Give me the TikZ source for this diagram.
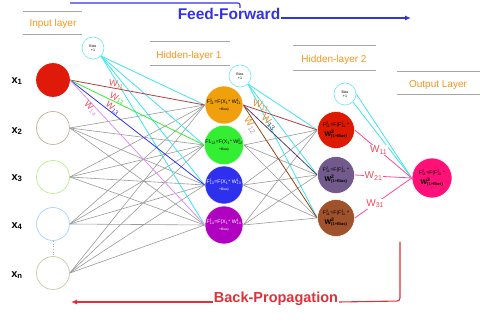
\documentclass[tikz,border=0pt]{standalone}
\usepackage{fontspec}
\setmainfont{Liberation Sans}
\usetikzlibrary{arrows.meta,backgrounds,calc}
\newcommand{\sps}[2]{\rlap{\textsuperscript{#1}}\textsubscript{#2}}
\definecolor{titleorange}{HTML}{F7941D}
\definecolor{wiregray}{HTML}{9A9A9A}
\definecolor{biascyan}{HTML}{3FE3F0}
\definecolor{ffblue}{HTML}{3333E6}
\definecolor{bpred}{HTML}{E0303A}
\definecolor{wred}{HTML}{F04A5A}
\definecolor{worange}{HTML}{F0902A}
\definecolor{inred}{HTML}{E01A0A}
\definecolor{hor}{HTML}{EFA00C}
\definecolor{hgr}{HTML}{33EE33}
\definecolor{hbl}{HTML}{2F2FEE}
\definecolor{hpu}{HTML}{B000C0}
\definecolor{gred}{HTML}{DD1A00}
\definecolor{gpu}{HTML}{735A8C}
\definecolor{gbr}{HTML}{A0522D}
\definecolor{opink}{HTML}{FF1177}
\definecolor{pline}{HTML}{FF4A9A}
\definecolor{ctan}{HTML}{C8B09A}
\definecolor{cgreen}{HTML}{B4F08A}
\definecolor{cblue}{HTML}{A6D2FF}
\definecolor{ckhaki}{HTML}{C8C8A6}
\definecolor{lbrown}{HTML}{B04040}
\definecolor{lviolet}{HTML}{E090F0}
\definecolor{ldpurple}{HTML}{504070}
\definecolor{lsaddle}{HTML}{8B4513}
\definecolor{wpurple}{HTML}{B0A0D0}
\begin{document}
\begin{tikzpicture}[x=1pt,y=-1pt,
  innode/.style={circle,draw,line width=0.7pt,fill=white,minimum size=33pt,inner sep=0pt},
  hnode/.style={circle,draw=white,line width=0.5pt,minimum size=38pt,inner sep=0pt,align=center,font=\fontsize{5.2}{6}\selectfont},
  bnode/.style={circle,draw=biascyan!80,line width=0.6pt,fill=white,minimum size=22pt,inner sep=0pt,align=center,font=\fontsize{3.6}{4.2}\selectfont},
  title/.style={text=titleorange,font=\fontsize{10}{12}\selectfont},
  rulel/.style={draw=gray!70,line width=1pt},
  wire/.style={draw=wiregray,line width=0.6pt},
  bwire/.style={draw=biascyan,line width=0.8pt},
  pwire/.style={draw=pline,line width=0.8pt},
  xlab/.style={font=\fontsize{11}{12}\selectfont\bfseries},
  wlab/.style={font=\fontsize{9}{10}\selectfont,inner sep=0.3pt},
  wlabb/.style={font=\fontsize{10}{11}\selectfont,inner sep=0.8pt}
]
\useasboundingbox (0,0) rectangle (480,331);

% titles
\draw[rulel] (23,12) -- (82,12);
\draw[rulel] (23,35) -- (82,35);
\node[title] (tin) at (53,24) {Input layer};
\draw[rulel] (150,42) -- (230,42);
\draw[rulel] (150,66) -- (230,66);
\node[title] (th1) at (189,56) {Hidden-layer 1};
\draw[rulel] (293,46) -- (376,46);
\draw[rulel] (293,71) -- (376,71);
\node[title] (th2) at (334,60) {Hidden-layer 2};
\draw[rulel] (397,72) -- (480,72);
\draw[rulel] (397,95) -- (480,95);
\node[title] (tout) at (438,85) {Output Layer};

% input nodes
\node[innode,draw=inred,fill=inred] (x1) at (53,80) {};
\node[innode,draw=ctan] (x2) at (53,128) {};
\node[innode,draw=cgreen] (x3) at (53,177) {};
\node[innode,draw=cblue] (x4) at (53,224) {};
\node[innode,draw=ckhaki] (xn) at (53,273) {};
\node[xlab] (l1) at (17,81) {x\textsubscript{1}};
\node[xlab] (l2) at (17,131) {x\textsubscript{2}};
\node[xlab] (l3) at (17,178) {x\textsubscript{3}};
\node[xlab] (l4) at (17,226) {x\textsubscript{4}};
\node[xlab] (l5) at (17,275) {x\textsubscript{n}};
\draw[dotted,gray!70,line width=0.7pt] (x4.south) -- (xn.north);

% bias nodes
\node[bnode] (b0) at (93,48) {Bias\\+1};
\node[bnode] (b1) at (240,76) {Bias\\+1};
\node[bnode] (b2) at (345,94) {Bias\\+1};

% hidden layer 1
\node[hnode,fill=hor] (h1) at (224,105) {F\sps{1}{11}=F(X\textsubscript{1}* W\sps{1}{11}\\[1pt]{\fontsize{3.4}{4}\selectfont +Bias)}};
\node[hnode,fill=hgr] (h2) at (224,145) {F1\textsubscript{12}=F(X\textsubscript{1}* W\sps{1}{12}\\[1pt]{\fontsize{3.4}{4}\selectfont +Bias)}};
\node[hnode,fill=hbl,text=white] (h3) at (224,185) {F\sps{1}{13}=F(X\textsubscript{1}* W\sps{1}{13}\\[1pt]{\fontsize{3.4}{4}\selectfont +Bias)}};
\node[hnode,fill=hpu,text=white] (h4) at (224,225) {F\sps{1}{14}=F(X\textsubscript{1}* W\sps{1}{14}\\[1pt]{\fontsize{3.4}{4}\selectfont +Bias)}};

% hidden layer 2
\node[hnode,fill=gred,minimum size=37pt] (g1) at (336,130) {F\sps{2}{11}=F(F\sps{1}{11} *\\[1pt]{\fontsize{7}{8}\selectfont\bfseries W\sps{2}{\fontsize{4}{4}\selectfont(1+Bias)}}};
\node[hnode,fill=gpu,minimum size=37pt] (g2) at (336,175) {F\sps{2}{11}=F(F\sps{1}{11} *\\[1pt]{\fontsize{7}{8}\selectfont\bfseries W\sps{2}{\fontsize{4}{4}\selectfont(1+Bias)}}};
\node[hnode,fill=gbr,minimum size=37pt] (g3) at (336,218) {F\sps{2}{11}=F(F\sps{1}{11} *\\[1pt]{\fontsize{7}{8}\selectfont\bfseries W\sps{2}{\fontsize{4}{4}\selectfont(1+Bias)}}};

% output
\node[hnode,fill=opink,minimum size=40pt] (o) at (432,178) {F\sps{3}{11}=F(F\sps{2}{11} *\\[1pt]{\fontsize{7}{8}\selectfont\bfseries W\sps{3}{\fontsize{4}{4}\selectfont(1+Bias)}}};

\begin{scope}[on background layer]
  % input -> hidden1 gray
  \foreach \i in {x2,x3,x4,xn}
    \foreach \j in {h1,h2,h3,h4}
      \draw[wire] (\i.east) -- (\j.west);
  % hidden1 -> hidden2 gray
  \foreach \i in {h2,h3,h4}
    \foreach \j in {g1,g2,g3}
      \draw[wire] (\i.east) -- (\j.west);
  % bias lines
  \foreach \j in {h1,h2,h3,h4}
    \draw[bwire] (b0.south east) -- (\j.west);
  \foreach \j in {g1,g2,g3}
    \draw[bwire] (b1.south east) -- (\j.west);
  \draw[bwire] (b2.south east) -- (o.west);
  \draw[bwire] (b2.east) -- (o.west);
  % x1 colored
  \draw[draw=lbrown,line width=0.8pt] (x1.east) -- (h1.west);
  \draw[draw=hgr,line width=0.8pt] (x1.east) -- (h2.west);
  \draw[draw=hbl,line width=0.8pt] (x1.east) -- (h3.west);
  \draw[draw=lviolet,line width=0.8pt] (x1.east) -- (h4.west);
  % h1 colored
  \draw[draw=lbrown,line width=0.8pt] (h1.east) -- (g1.west);
  \draw[draw=ldpurple,line width=0.8pt] (h1.east) -- (g2.west);
  \draw[draw=lsaddle,line width=0.8pt] (h1.east) -- (g3.west);
\end{scope}

% weight labels input side
\path (x1.east) -- node[wlab,sloped,above,pos=0.34]{\textcolor{wred}{W\textsubscript{\textcolor{worange}{11}}}} (h1.west);
\path (x1.east) -- node[wlab,sloped,above,pos=0.34]{\textcolor{wred}{W\textsubscript{\textcolor{hgr}{12}}}} (h2.west);
\path (x1.east) -- node[wlab,sloped,above,pos=0.3]{\textcolor{wred}{W\textsubscript{\textcolor{hbl}{13}}}} (h3.west);
\path (x1.east) -- node[wlab,sloped,below,pos=0.18]{\textcolor{wred}{W\textsubscript{\textcolor{lviolet}{14}}}} (h4.west);

% weight labels hidden side
\path (h1.east) -- node[wlabb,sloped,above,pos=0.22]{\textcolor{worange}{W\textsubscript{11}}} (g1.west);
\path (h1.east) -- node[wlabb,sloped,above,pos=0.3]{\textcolor{worange}{W\textsubscript{\textcolor{ldpurple}{13}}}} (g2.west);
\path (h1.east) -- node[wlabb,sloped,below,pos=0.16]{\textcolor{worange}{W\textsubscript{\textcolor{wpurple}{12}}}} (g3.west);

% hidden2 -> output
\draw[pwire] (g1.east) -- node[wlabb,fill=white,pos=0.42,text=wred]{W\textsubscript{11}} (o.west);
\draw[pwire] (g2.east) -- node[wlabb,fill=white,pos=0.33,text=wred]{W\textsubscript{21}} (o.west);
\draw[pwire] (g3.east) -- node[wlabb,fill=white,pos=0.36,text=wred]{W\textsubscript{31}} (o.west);

% feed-forward
\coordinate (ffa) at (70,3);
\coordinate (ffb) at (240,3);
\coordinate (ffc) at (240,8);
\coordinate (ffend) at (411,18);
\draw[ffblue,line width=1.1pt,rounded corners=2pt] (ffa) -- (ffb) -- (ffc);
\node[anchor=base,text=ffblue,font=\fontsize{15.5}{17}\selectfont\bfseries,inner sep=1pt] (ff) at (229,20) {Feed-Forward};
\draw[ffblue,line width=1.1pt,-{Latex[length=6pt,width=5pt]}] ($(ff.base east)+(0,-2)$) -- (ffend);

% back-propagation
\coordinate (bpa) at (400,242);
\coordinate (bpb) at (400,301);
\coordinate (bpend) at (71,302);
\node[anchor=base,text=bpred,font=\fontsize{14.5}{16}\selectfont\bfseries,inner sep=1pt] (bp) at (276,303) {Back-Propagation};
\draw[bpred,line width=1.1pt,rounded corners=3pt] (bpa) -- (bpb) -- ($(bp.base east)+(0,-1)$);
\draw[bpred,line width=1.1pt,-{Latex[length=6pt,width=5pt]}] ($(bp.base west)+(0,-1)$) -- (bpend);
\end{tikzpicture}
\end{document}
